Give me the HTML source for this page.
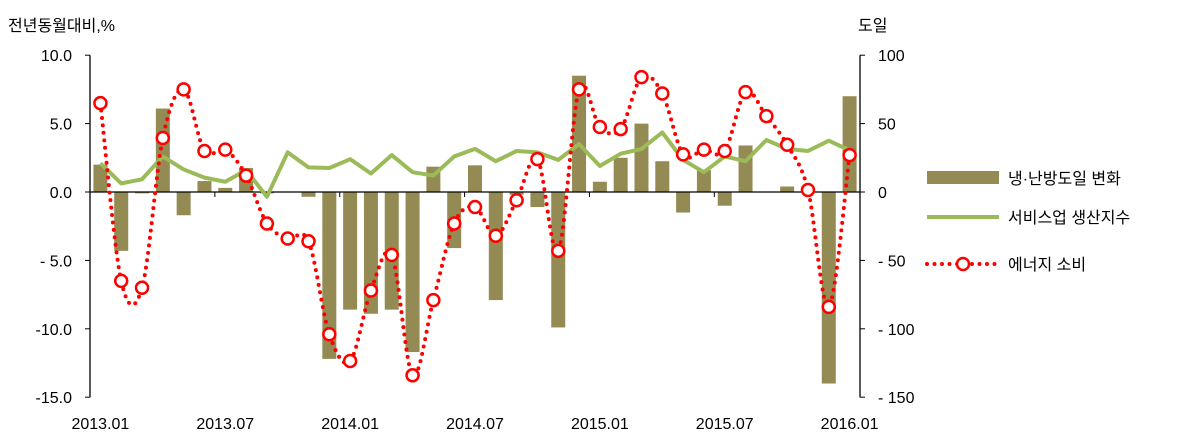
<!DOCTYPE html>
<html><head><meta charset="utf-8"><style>
body{margin:0;background:#fff;}
svg text{font-family:"Liberation Sans","Noto Sans CJK KR",sans-serif;font-size:16px;fill:#000;}
</style></head><body>
<svg id="chart" width="1200" height="440" xmlns="http://www.w3.org/2000/svg">
<text x="8" y="31">전년동월대비,%</text>
<text x="858" y="31">도일</text>
<g id="bars"></g>
<g id="axes"></g>
<g id="lines"></g>
<g>
<g><rect x="927" y="171" width="72" height="13" fill="#948a54"/><text x="1008" y="184">냉·난방도일 변화</text></g>
<g><line x1="927" y1="217" x2="999" y2="217" stroke="#9bbb59" stroke-width="4"/><text x="1008" y="223">서비스업 생산지수</text></g>
<g><line x1="927" y1="264" x2="999" y2="264" stroke="#f00" stroke-width="4" stroke-linecap="round" stroke-dasharray="0 7.5"/><circle cx="963" cy="264" r="6" fill="#fff" stroke="#f00" stroke-width="2.5"/><text x="1008" y="270">에너지 소비</text></g>
</g>
</svg>
<script>
const months=["2013.01","2013.07","2014.01","2014.07","2015.01","2015.07","2016.01"];
const leftTicks=[10,5,0,-5,-10,-15];
const leftTickLabels=["10.0","5.0","0.0","- 5.0","-10.0","-15.0"];
const rightTickLabels=["100","50","0","- 50","- 100","- 150"];
const degreeDays=[20,-43,-1,61,-17,8,3,17.5,-1,0,-3.5,-122,-86,-89,-86,-117,18.5,-41,19.5,-79,-2,-11,-99,85,7.5,25,50,22.5,-15,16,-10,34,0,4,0,-140,70];
const service=[2.1,0.63,0.93,2.6,1.65,1.05,0.75,1.6,-0.35,2.9,1.8,1.75,2.4,1.35,2.7,1.45,1.2,2.6,3.15,2.25,3.0,2.9,2.35,3.5,1.9,2.8,3.15,4.35,2.35,1.45,2.6,2.25,3.8,3.15,3.0,3.75,3.05];
const energy=[6.5,-6.5,-7.0,3.95,7.5,3.0,3.1,1.2,-2.3,-3.4,-3.6,-10.4,-12.35,-7.2,-4.6,-13.4,-7.9,-2.3,-1.1,-3.2,-0.6,2.4,-4.3,7.5,4.75,4.6,8.4,7.2,2.75,3.1,3.0,7.3,5.55,3.45,0.15,-8.4,2.7];
const NS="http://www.w3.org/2000/svg";
const X0=90,X1=860,N=37,step=(X1-X0)/N;
const yL=v=>192-v*13.68;
const yR=v=>yL(v/10);
const xc=i=>X0+step*(i+0.5);
function mk(t,a,p){const e=document.createElementNS(NS,t);for(const k in a)e.setAttribute(k,a[k]);p.appendChild(e);return e;}
const bars=document.getElementById('bars'),axes=document.getElementById('axes'),lines=document.getElementById('lines');
degreeDays.forEach((v,i)=>{const y=yR(v),y0=yR(0);
const r=mk('rect',{x:xc(i)-7,y:Math.min(y,y0),width:14,height:Math.abs(y-y0),fill:'#948a54'},bars);

});
// axes
mk('line',{x1:X0,y1:yL(10),x2:X0,y2:yL(-15),stroke:'#000','stroke-width':1.3},axes);
mk('line',{x1:X1,y1:yL(10),x2:X1,y2:yL(-15),stroke:'#000','stroke-width':1.3},axes);
mk('line',{x1:X0,y1:yL(0),x2:X1,y2:yL(0),stroke:'#000','stroke-width':1.3},axes);
leftTicks.forEach((v,i)=>{const y=yL(v);
mk('line',{x1:X0-5,y1:y,x2:X0,y2:y,stroke:'#000'},axes);
mk('line',{x1:X1,y1:y,x2:X1+5,y2:y,stroke:'#000'},axes);
const t=mk('text',{x:72,y:y+6,'text-anchor':'end'},axes);t.textContent=leftTickLabels[i];


const t2=mk('text',{x:878,y:y+6},axes);t2.textContent=rightTickLabels[i];

});
months.forEach((m,k)=>{const i=k*6;
if(k>0&&k<6)mk('line',{x1:X0+step*i,y1:yL(0),x2:X0+step*i,y2:yL(0)+5,stroke:'#000'},axes);
const t=mk('text',{x:xc(i),y:429,'text-anchor':'middle'},axes);t.textContent=m;

});
// service line
const sl=mk('polyline',{points:service.map((v,i)=>xc(i)+','+yL(v)).join(' '),fill:'none',stroke:'#9bbb59','stroke-width':4,'stroke-linejoin':'round'},lines);


// energy smooth dotted
const P=energy.map((v,i)=>[xc(i),yL(v)]);
let d='M'+P[0][0]+','+P[0][1];
for(let i=0;i<P.length-1;i++){const p0=P[i-1]||P[i],p1=P[i],p2=P[i+1],p3=P[i+2]||p2;
const c1=[p1[0]+(p2[0]-p0[0])/6,p1[1]+(p2[1]-p0[1])/6],c2=[p2[0]-(p3[0]-p1[0])/6,p2[1]-(p3[1]-p1[1])/6];
d+=' C'+c1+' '+c2+' '+p2;}
const el=mk('path',{d:d,fill:'none',stroke:'#f00','stroke-width':4,'stroke-linecap':'round','stroke-dasharray':'0 7.5'},lines);


P.forEach(p=>{const c=mk('circle',{cx:p[0],cy:p[1],r:6,fill:'#fff',stroke:'#f00','stroke-width':2.5},lines);

});
</script>
</body></html>
